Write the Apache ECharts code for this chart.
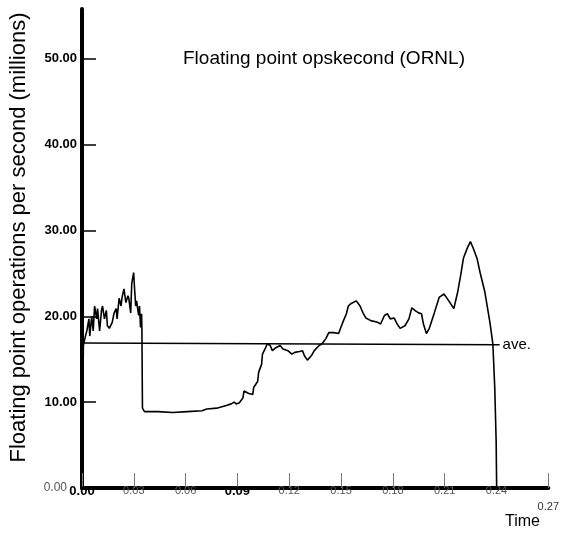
<!DOCTYPE html>
<html>
<head>
<meta charset="utf-8">
<script src="https://cdn.jsdelivr.net/npm/echarts@6/dist/echarts.min.js"></script>
<style>
html,body{margin:0;padding:0;background:#fff;}
#chart{width:562px;height:539px;}
</style>
</head>
<body>
<div id="chart"></div>
<script>
const times = [0.0003,0.0008,0.0011,0.0020,0.0028,0.0040,0.0045,0.0056,0.0065,0.0073,0.0085,0.0090,0.0102,0.0113,0.0119,0.0130,0.0141,0.0147,0.0158,0.0175,0.0186,0.0198,0.0203,0.0215,0.0226,0.0232,0.0243,0.0254,0.0266,0.0271,0.0282,0.0288,0.0299,0.0305,0.0311,0.0316,0.0328,0.0333,0.0339,0.0345,0.0347,0.0350,0.0362,0.0441,0.0525,0.0610,0.0695,0.0723,0.0780,0.0836,0.0864,0.0881,0.0893,0.0910,0.0932,0.0938,0.0949,0.0966,0.0989,0.0994,0.1017,0.1023,0.1040,0.1045,0.1062,0.1073,0.1090,0.1102,0.1119,0.1147,0.1164,0.1192,0.1215,0.1232,0.1260,0.1277,0.1288,0.1305,0.1328,0.1345,0.1373,0.1390,0.1412,0.1429,0.1458,0.1486,0.1497,0.1514,0.1531,0.1542,0.1559,0.1588,0.1610,0.1627,0.1644,0.1672,0.1712,0.1729,0.1751,0.1768,0.1785,0.1808,0.1825,0.1842,0.1870,0.1893,0.1910,0.1927,0.1949,0.1966,0.1977,0.1994,0.2011,0.2040,0.2068,0.2096,0.2124,0.2153,0.2175,0.2192,0.2209,0.2232,0.2249,0.2266,0.2288,0.2305,0.2333,0.2362,0.2379,0.2390,0.2398,0.2401];
const flops = [7.8,16.6,16.9,17.7,18.3,19.7,17.7,20.0,18.3,21.2,19.7,20.9,18.3,20.7,21.2,19.7,20.7,18.9,18.6,19.3,20.4,20.9,19.7,22.1,21.2,22.2,23.2,21.6,22.4,22.1,20.4,23.8,25.1,23.0,21.2,21.8,20.1,21.2,18.7,20.3,18.3,9.3,8.9,8.9,8.8,8.9,9.0,9.2,9.3,9.6,9.8,10.0,9.8,9.9,10.5,11.3,11.1,11.0,10.9,11.7,12.4,13.5,14.4,15.6,16.3,16.8,16.6,16.0,16.3,16.6,16.2,16.0,15.6,15.8,15.9,16.0,15.4,14.9,15.4,16.0,16.6,16.8,17.4,18.1,18.1,18.0,18.6,19.5,20.3,21.2,21.5,21.8,21.2,20.4,19.8,19.5,19.3,19.1,20.1,20.3,19.7,19.8,19.1,18.6,18.9,19.7,21.0,20.7,20.4,20.3,19.1,18.0,18.6,20.4,22.2,22.6,21.8,20.9,22.8,24.7,26.8,28.0,28.7,27.9,26.7,25.1,22.8,19.3,16.8,11.7,5.5,0.0];
const aveTimes = [0, 0.2418];
const aveValues = [16.9, 16.7];
const xTickValues = [0,0.03,0.06,0.09,0.12,0.15,0.18,0.21,0.24,0.27];
const yTickValues = [10,20,30,40,50];
const yLabelValues = [0,10,20,30,40,50];

const chart = echarts.init(document.getElementById('chart'), null, {renderer:'canvas'});
const FONT = 'Liberation Sans';
chart.setOption({
  animation:false,
  backgroundColor:'#fff',
  title:{
    text:'Floating point opskecond (ORNL)',
    left:178, top:44,
    textStyle:{fontFamily:FONT,fontSize:19,fontWeight:'normal',color:'#000'}
  },
  grid:{left:72,right:12,top:9,bottom:51},
  xAxis:{
    type:'value', min:0, max:0.27,
    axisLine:{lineStyle:{color:'#000',width:4}},
    axisTick:{inside:true,length:15,lineStyle:{color:'#777',width:1},customValues:xTickValues},
    axisLabel:{
      customValues:xTickValues, margin:-3,
      fontFamily:FONT,fontSize:11,color:'#555',
      formatter:function(v){
        const s=v.toFixed(2);
        if(s==='0.00'||s==='0.09') return '{b|'+s+'}';
        if(s==='0.27') return '{low|'+s+'}';
        return s;
      },
      rich:{
        b:{fontFamily:FONT,fontSize:13,fontWeight:'bold',color:'#000'},
        low:{fontFamily:FONT,fontSize:11,color:'#333',padding:[16,0,0,0]}
      }
    },
    splitLine:{show:false}
  },
  yAxis:{
    type:'value', min:0, max:55.8,
    name:'Floating point operations per second (millions)',
    nameLocation:'middle', nameGap:52, nameRotate:90,
    nameTextStyle:{fontFamily:FONT,fontSize:22,color:'#000',padding:[0,0,0,22]},
    axisLine:{show:true,lineStyle:{color:'#000',width:4}},
    axisTick:{show:true,inside:true,length:14,lineStyle:{color:'#000',width:1.5},customValues:yTickValues},
    axisLabel:{
      customValues:yLabelValues, margin:5,
      fontFamily:FONT,fontSize:13,fontWeight:'bold',color:'#000',
      formatter:function(v){
        if(v===0) return '{z|0.00}';
        return v.toFixed(2);
      },
      rich:{z:{fontFamily:FONT,fontSize:12,fontWeight:'normal',color:'#555',padding:[0,10,0,0]}}
    },
    splitLine:{show:false}
  },
  graphic:[
    {type:'text',left:505,top:514,style:{text:'Time',fontFamily:FONT,fontSize:16,fill:'#000'}}
  ],
  series:[
    {
      type:'line', name:'ave.',
      data:aveTimes.map((t,i)=>[t,aveValues[i]]),
      symbol:'none', silent:true,
      lineStyle:{color:'#000',width:1.5},
      endLabel:{show:true,formatter:'ave.',fontFamily:FONT,fontSize:15,color:'#000',distance:3}
    },
    {
      type:'line', name:'Floating point ops/second',
      data:times.map((t,i)=>[t,flops[i]]),
      symbol:'none', silent:true,
      lineStyle:{color:'#000',width:1.6}
    }
  ]
});
</script>
</body>
</html>
